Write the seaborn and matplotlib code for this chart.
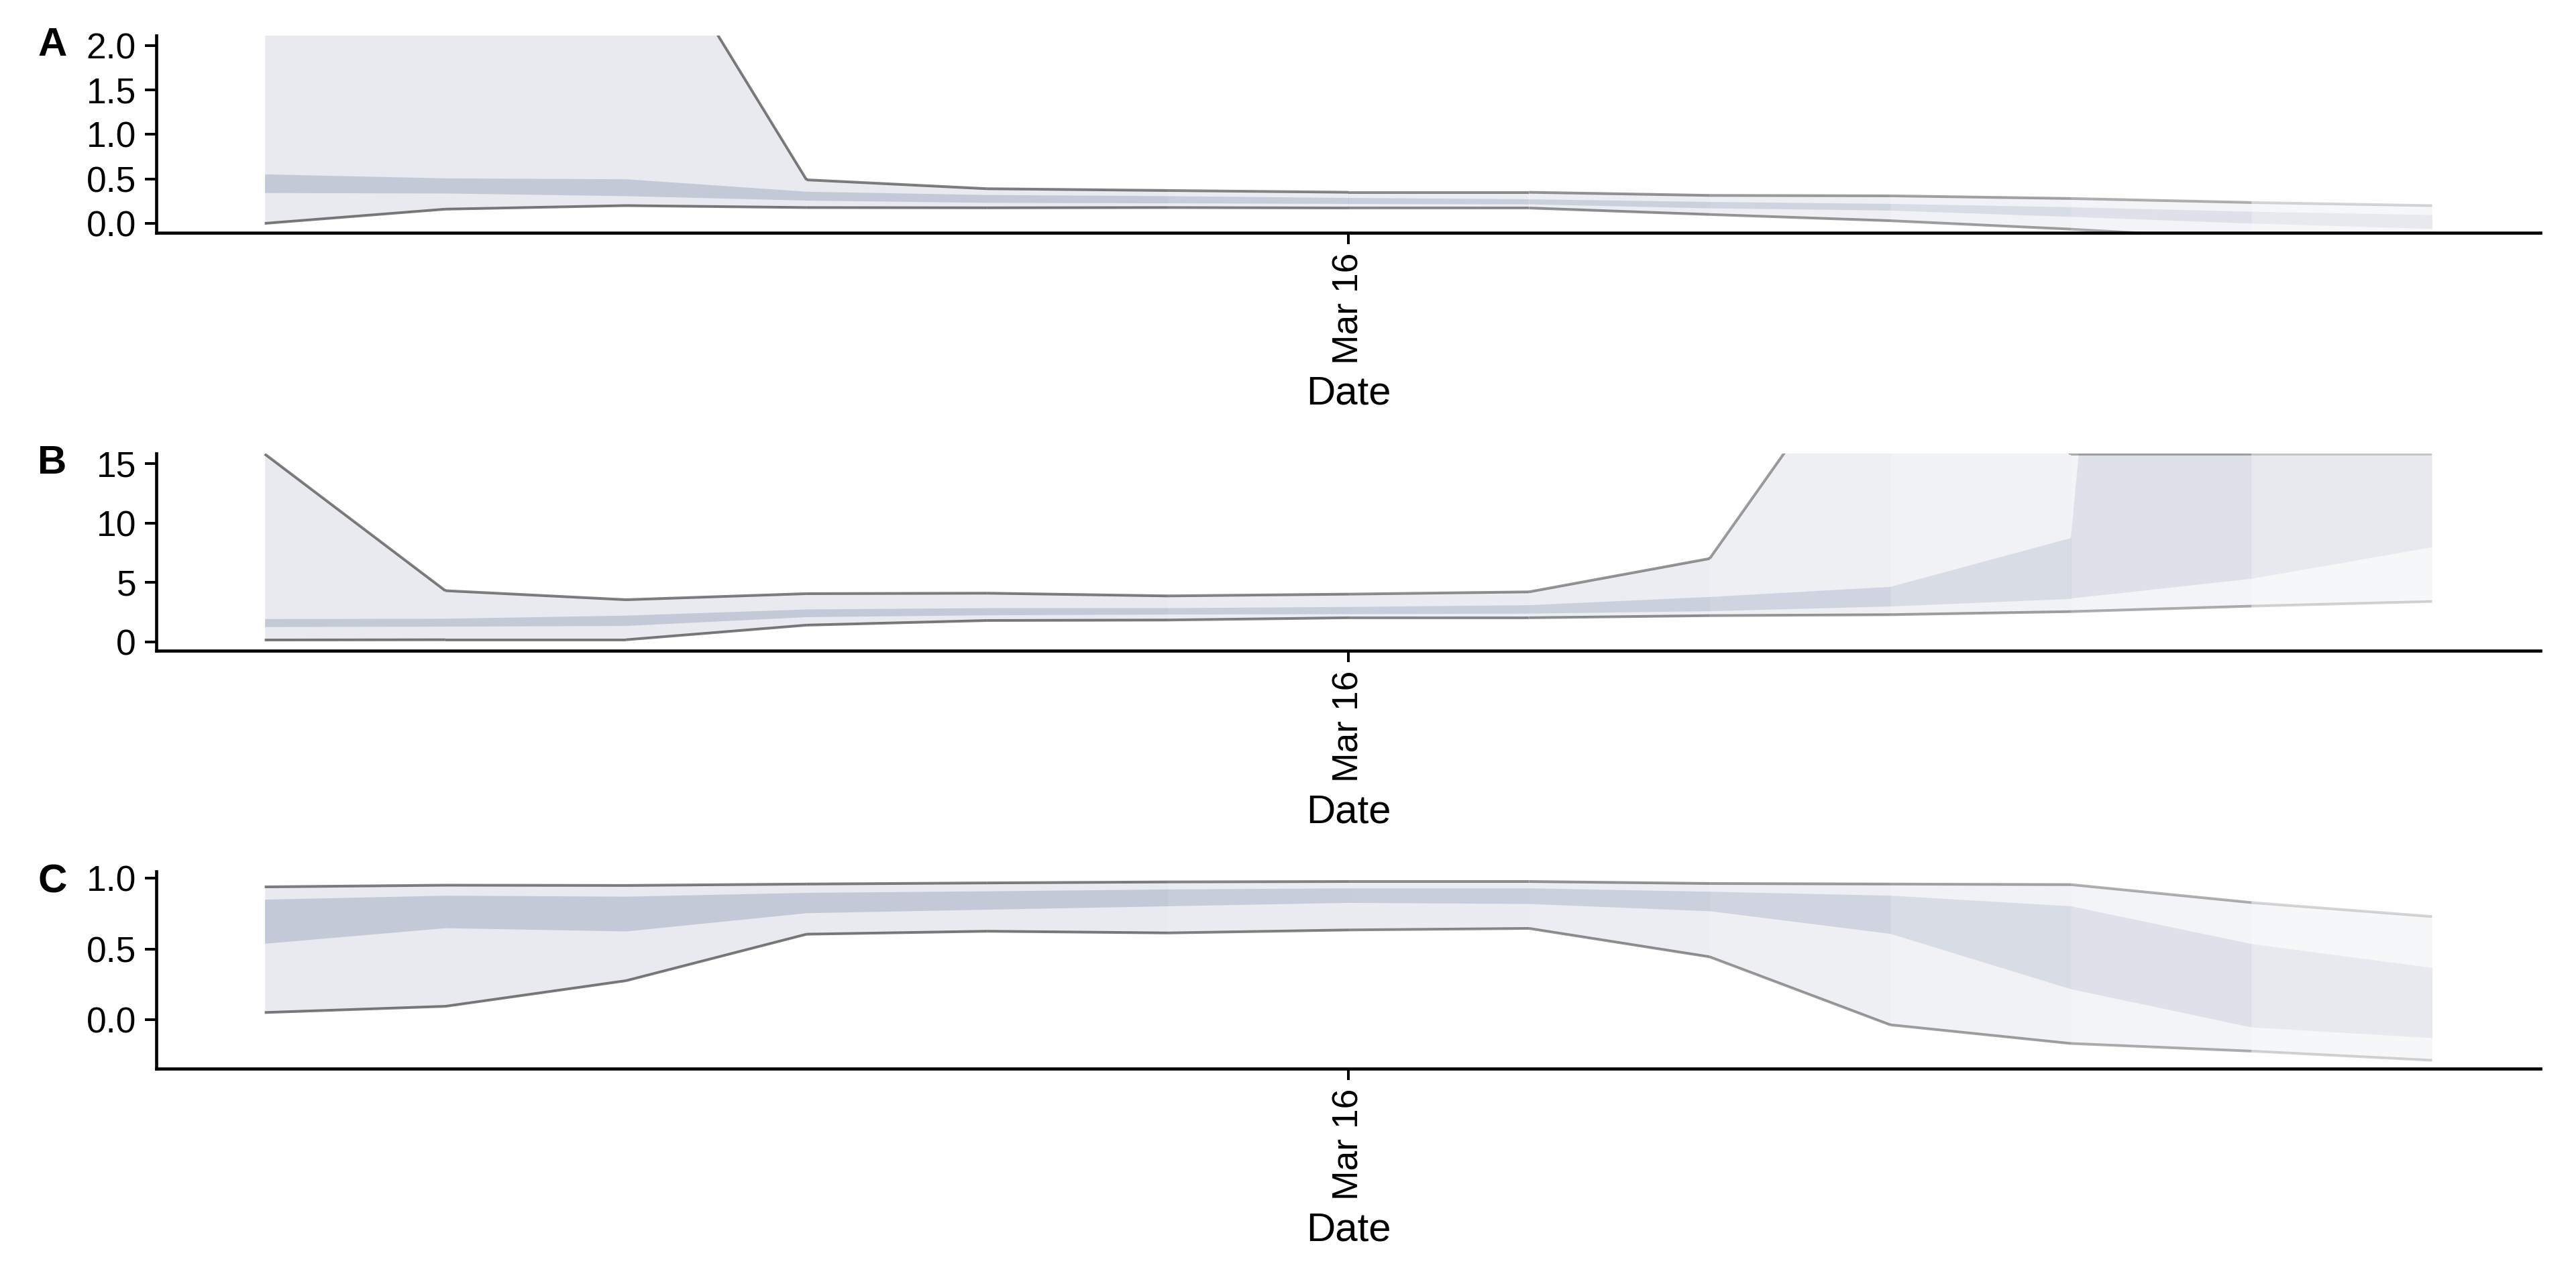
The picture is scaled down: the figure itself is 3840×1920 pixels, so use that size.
import pandas as pd
import numpy as np
import seaborn as sns
import matplotlib.pyplot as plt

# dates of the estimates (one point per day)
dates = pd.date_range("2020-03-10", periods=13, freq="D")
tick_dates = [pd.Timestamp("2020-03-16")]
tick_labels = ["Mar 16"]

# panel A
upper90_a = [6.0, 5.0, 3.8, 0.49, 0.39, 0.37, 0.35, 0.35, 0.315, 0.31, 0.28, 0.235, 0.20]
lower90_a = [0.0, 0.16, 0.20, 0.178, 0.175, 0.178, 0.173, 0.173, 0.10, 0.03, -0.065, -0.18, -0.25]
upper50_a = [0.555, 0.51, 0.50, 0.36, 0.323, 0.31, 0.29, 0.275, 0.245, 0.223, 0.186, 0.135, 0.098]
lower50_a = [0.345, 0.34, 0.31, 0.26, 0.235, 0.23, 0.223, 0.218, 0.173, 0.148, 0.077, 0.002, -0.058]

# panel B
upper90_b = [15.8, 4.3, 3.54, 4.05, 4.09, 3.86, 4.01, 4.2, 7.0, 28.5, 15.8, 15.8, 15.8]
lower90_b = [0.15, 0.17, 0.17, 1.4, 1.79, 1.83, 2.02, 2.02, 2.2, 2.28, 2.54, 3.0, 3.39]
upper50_b = [1.94, 1.97, 2.23, 2.75, 2.86, 2.86, 2.96, 3.11, 3.8, 4.65, 8.76, 170, 160]
lower50_b = [1.27, 1.3, 1.36, 2.1, 2.26, 2.32, 2.36, 2.4, 2.6, 3.0, 3.64, 5.3, 7.95]

# panel C
upper90_c = [0.94, 0.952, 0.95, 0.96, 0.968, 0.975, 0.978, 0.978, 0.964, 0.96, 0.956, 0.829, 0.73]
lower90_c = [0.051, 0.095, 0.276, 0.605, 0.626, 0.614, 0.635, 0.646, 0.445, -0.036, -0.168, -0.222, -0.287]
upper50_c = [0.852, 0.88, 0.873, 0.9, 0.911, 0.924, 0.932, 0.932, 0.908, 0.88, 0.805, 0.538, 0.369]
lower50_c = [0.54, 0.65, 0.627, 0.756, 0.781, 0.805, 0.829, 0.821, 0.77, 0.61, 0.218, -0.052, -0.127]

panels = [
    ("A", upper90_a, lower90_a, upper50_a, lower50_a, (-0.105, 2.11), [0, 0.5, 1.0, 1.5, 2.0], "{:.1f}"),
    ("B", upper90_b, lower90_b, upper50_b, lower50_b, (-0.75, 15.83), [0, 5, 10, 15], "{:.0f}"),
    ("C", upper90_c, lower90_c, upper50_c, lower50_c, (-0.346, 1.048), [0.0, 0.5, 1.0], "{:.1f}"),
]

# fading of later segments (partial data / forecast)
fill_fade = [1, 1, 1, 1, 1, 0.96, 0.92, 0.87, 0.78, 0.65, 0.53, 0.38]
line_fade = [1, 1, 1, 1, 1, 0.95, 0.88, 0.84, 0.78, 0.72, 0.62, 0.33]
band_col = "#415485"

sns.set_theme(style="ticks")
plt.rcParams["font.family"] = ["Liberation Sans", "DejaVu Sans"]
plt.rcParams["axes.linewidth"] = 1.4
plt.rcParams["text.color"] = "black"
plt.rcParams["axes.labelcolor"] = "black"

fig = plt.figure(figsize=(16, 8), dpi=240)
boxes = [0.8193, 0.4948, 0.1703]
letter_y = [0.9646, 0.6403, 0.3150]

for (letter, up90, lo90, up50, lo50, ylim, yticks, fmt), b, ly in zip(panels, boxes, letter_y):
    ax = fig.add_axes([0.0607, b, 0.9255, 0.153])
    for s in range(len(dates) - 1):
        xs = dates[s:s + 2]
        ax.fill_between(xs, lo90[s:s + 2], up90[s:s + 2], color=band_col,
                        alpha=0.116 * fill_fade[s], lw=0)
        ax.fill_between(xs, lo50[s:s + 2], up50[s:s + 2], color=band_col,
                        alpha=0.214 * fill_fade[s], lw=0)
        for yy in (up90, lo90):
            sns.lineplot(x=xs, y=yy[s:s + 2], color="black", alpha=0.5 * line_fade[s],
                         lw=1.2, ax=ax, solid_capstyle="butt")
    ax.set_xlim(dates[0] - pd.Timedelta(hours=14.4), dates[-1] + pd.Timedelta(hours=14.4))
    ax.set_ylim(*ylim)
    ax.set_yticks(yticks)
    ax.set_yticklabels([fmt.format(t) for t in yticks])
    ax.set_xticks(tick_dates)
    ax.set_xticklabels(tick_labels, rotation=90)
    ax.tick_params(axis="both", labelsize=16, length=5, width=1.2, pad=4, colors="black")
    ax.set_xlabel("Date", fontsize=18, labelpad=5)
    ax.set_ylabel("")
    ax.spines["left"].set_color("black")
    ax.spines["bottom"].set_color("black")
    sns.despine(ax=ax)
    fig.text(0.0203, ly, letter, fontsize=18, fontweight="bold", ha="center", va="center")

fig.savefig("out.png", dpi=240)
